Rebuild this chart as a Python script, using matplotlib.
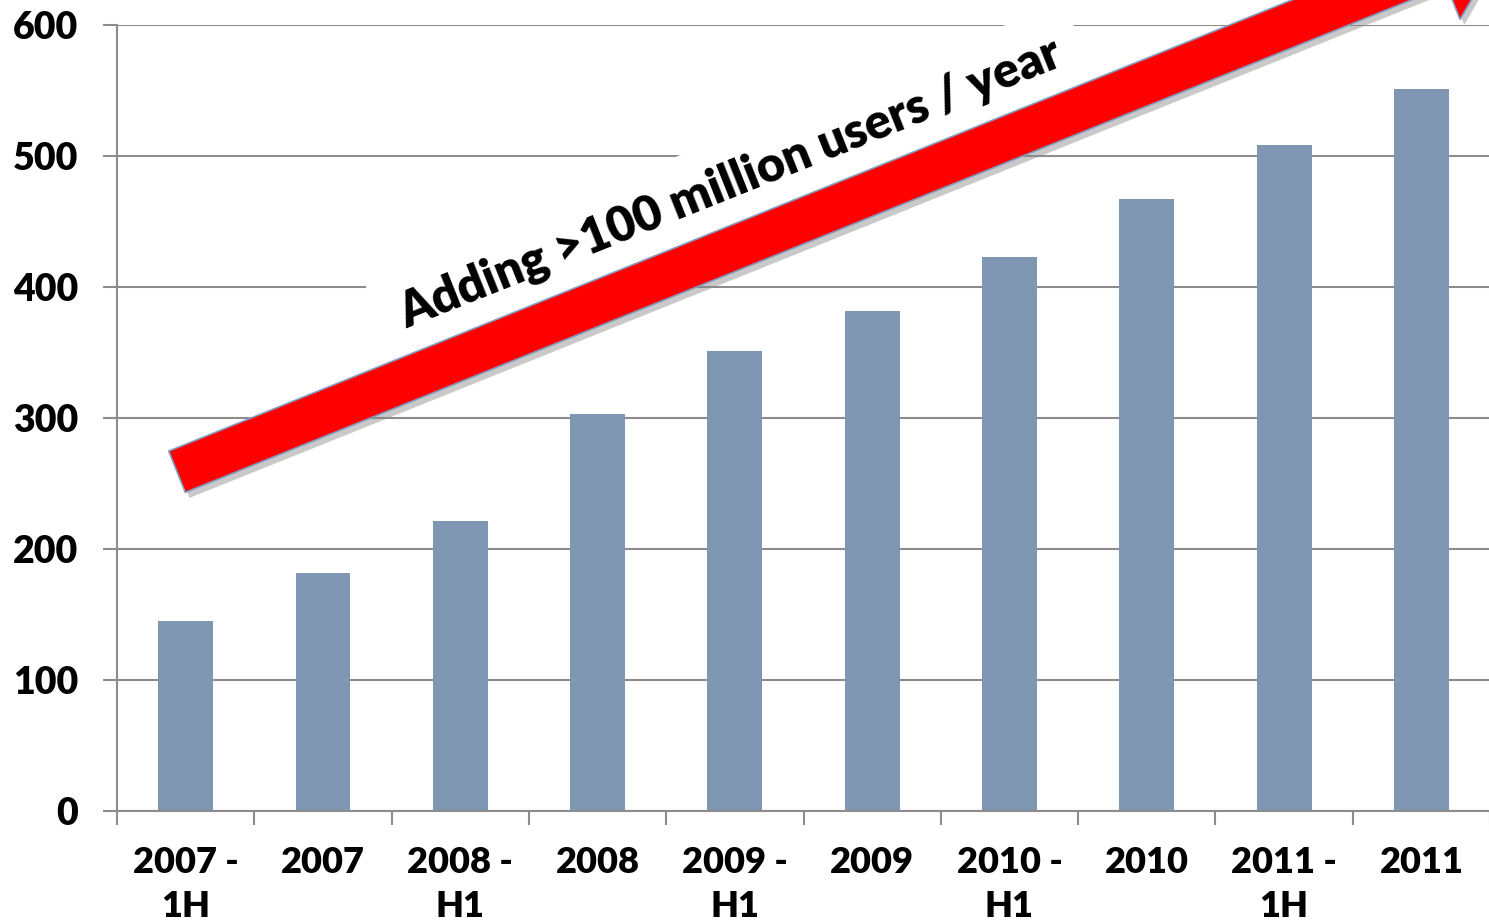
import numpy as np
import matplotlib
matplotlib.use('Agg')
import matplotlib.pyplot as plt
import matplotlib.patheffects as pe

plt.rcParams['font.family'] = ['Lato', 'DejaVu Sans']

periodi = ['2007 -\n1H', '2007', '2008 -\nH1', '2008', '2009 -\nH1',
           '2009', '2010 -\nH1', '2010', '2011 -\n1H', '2011']
korisnici = [145, 182, 221, 303, 351, 382, 423, 467, 508, 551]
y_oznake = [0, 100, 200, 300, 400, 500, 600]
natpis = 'Adding >100 million users / year'

siva = '#8c8c8c'
boja_stupca = '#8097b3'

fig = plt.figure(figsize=(14.89, 9.21), dpi=100)
ax = fig.add_axes([0.0786, 0.1194, 0.9221, 0.8535])

x = np.arange(len(periodi))
ax.bar(x, korisnici, width=0.4, color=boja_stupca, zorder=2)

ax.set_xlim(-0.5, len(periodi) - 0.5)
ax.set_ylim(0, 600)
ax.set_yticks(y_oznake)
ax.set_yticklabels([str(v) for v in y_oznake], fontsize=27, fontweight='heavy')
ax.yaxis.grid(True, color=siva, linewidth=1.5, zorder=0)
ax.set_axisbelow(True)

# granice kategorija kao glavne oznake, nazivi na sredini
ax.set_xticks(np.arange(len(periodi) + 1) - 0.5)
ax.set_xticklabels([])
ax.set_xticks(x, minor=True)
ax.set_xticklabels(periodi, minor=True, fontsize=26, fontweight='heavy',
                   linespacing=1.4)
ax.tick_params(axis='x', which='major', length=10, width=1.5, color=siva)
ax.tick_params(axis='x', which='minor', length=0, pad=25)
ax.tick_params(axis='y', length=10, width=1.5, color=siva, pad=18)

for s in ['top', 'right']:
    ax.spines[s].set_visible(False)
for s in ['left', 'bottom']:
    ax.spines[s].set_color(siva)
    ax.spines[s].set_linewidth(1.5)

# crvena strelica
ax.annotate('', xy=(9.63, 667), xytext=(-0.063, 259),
            arrowprops=dict(width=32, headwidth=84, headlength=54,
                            facecolor='#ff0000', edgecolor='#7f9bbf',
                            linewidth=1.2, shrink=0,
                            path_effects=[pe.SimplePatchShadow(offset=(3, -4),
                                                               shadow_rgbFace='#888888',
                                                               alpha=0.45),
                                          pe.Normal()]),
            annotation_clip=False, zorder=5)

ax.text(3.97, 479, natpis, rotation=21.8, rotation_mode='anchor',
        ha='center', va='center', fontsize=35, fontweight='heavy',
        bbox=dict(facecolor='white', edgecolor='none', pad=16), zorder=4)

fig.savefig('out.png', dpi=100)
